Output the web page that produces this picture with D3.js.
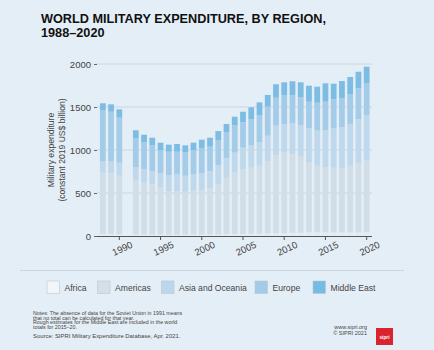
<!DOCTYPE html>
<html>
<head>
<meta charset="utf-8">
<script src="https://cdn.jsdelivr.net/npm/d3@7"></script>
<style>
  html, body { margin: 0; padding: 0; background: #e4eef6; }
  svg { display: block; font-family: "Liberation Sans", Arial, sans-serif; }
</style>
</head>
<body>
<svg id="chart" width="434" height="350"></svg>
<script>
// Data (constant 2019 US$ billion); 1991 has no total
const years = [1988, 1989, 1990, 1991, 1992, 1993, 1994, 1995, 1996, 1997, 1998, 1999, 2000,
  2001, 2002, 2003, 2004, 2005, 2006, 2007, 2008, 2009, 2010, 2011, 2012, 2013, 2014,
  2015, 2016, 2017, 2018, 2019, 2020];
const africa = [22, 21, 20, null, 18, 17, 17, 16, 15, 15, 16, 17, 18, 19, 20, 21, 23, 24, 26, 27,
  30, 33, 34, 38, 39, 44, 45, 43, 41, 41, 41, 41, 43];
const americas = [713, 708, 681, null, 625, 603, 584, 546, 508, 508, 499, 510, 517, 536, 581, 657,
  717, 752, 768, 790, 842, 909, 935, 915, 883, 813, 772, 756, 753, 746, 776, 804, 841];
const asiaOceania = [137, 143, 151, null, 156, 156, 155, 167, 186, 194, 186, 190, 194, 201, 225,
  225, 229, 251, 264, 272, 294, 341, 333, 357, 369, 395, 408, 430, 458, 480, 482, 512, 523];
const europe = [593, 573, 524, null, 337, 313, 302, 271, 271, 263, 272, 283, 291, 282, 290, 303,
  322, 295, 302, 318, 338, 325, 338, 330, 321, 310, 325, 333, 337, 334, 349, 360, 368];
const middleEast = [78, 86, 97, null, 93, 89, 85, 85, 82, 90, 81, 85, 100, 105, 105, 96, 96, 123,
  136, 147, 136, 156, 147, 159, 175, 186, 186, 213, 182, 201, 201, 193, 194];
const regions = ["Africa", "Americas", "Asia and Oceania", "Europe", "Middle East"];
const yTicks = [0, 500, 1000, 1500, 2000];
const xTicks = [1990, 1995, 2000, 2005, 2010, 2015, 2020];

const seriesByRegion = {
  "Africa": africa, "Americas": americas, "Asia and Oceania": asiaOceania,
  "Europe": europe, "Middle East": middleEast
};
const barColors = {
  "Africa": "#e2ebf1", "Americas": "#d1dee8", "Asia and Oceania": "#bfd8eb",
  "Europe": "#a4cce8", "Middle East": "#7dbde3"
};
const legendColors = {
  "Africa": "#f3f6f8", "Americas": "#d4dfe7", "Asia and Oceania": "#bcd7ec",
  "Europe": "#a3cbe8", "Middle East": "#76bbe3"
};

const table = years.map((yr, i) => {
  const row = { year: yr };
  regions.forEach(r => { row[r] = seriesByRegion[r][i] || 0; });
  return row;
});

const svg = d3.select("#chart");

// Title
svg.append("text").attr("x", 41).attr("y", 23)
  .attr("font-size", "12.7px").attr("font-weight", "bold").attr("fill", "#111")
  .text("WORLD MILITARY EXPENDITURE, BY REGION,");
svg.append("text").attr("x", 41).attr("y", 37)
  .attr("font-size", "12.7px").attr("font-weight", "bold").attr("fill", "#111")
  .text("1988–2020");

// Scales
const x = d3.scaleBand().domain(years).range([98.7, 370.8]).paddingInner(0.3).paddingOuter(0.15);
const y = d3.scaleLinear().domain([0, 2000]).range([236, 64]);

// Gridlines
svg.append("g").selectAll("line").data(yTicks.slice(1)).join("line")
  .attr("x1", 97).attr("x2", 372)
  .attr("y1", d => y(d)).attr("y2", d => y(d))
  .attr("stroke", "#cbd6de").attr("stroke-width", 1);

// Stacked bars
const stack = d3.stack().keys(regions);
const layers = stack(table);
svg.append("g").selectAll("g").data(layers).join("g")
  .attr("fill", d => barColors[d.key])
  .selectAll("rect").data(d => d.filter(p => p.data[d.key] > 0)).join("rect")
  .attr("x", d => x(d.data.year))
  .attr("width", x.bandwidth())
  .attr("y", d => y(d[1]))
  .attr("height", d => y(d[0]) - y(d[1]));

// Y axis
const yAxis = svg.append("g").attr("transform", "translate(97,0)")
  .call(d3.axisLeft(y).tickValues(yTicks).tickFormat(d3.format("d")).tickSize(3).tickPadding(3));
yAxis.select(".domain").remove();
yAxis.selectAll("line").attr("stroke", "#666");
yAxis.selectAll("text").attr("font-size", "9.5px").attr("fill", "#444")
  .attr("font-family", "Liberation Sans, Arial, sans-serif");

// X axis
const xAxis = svg.append("g").attr("transform", "translate(0,236)")
  .call(d3.axisBottom(x).tickValues(xTicks).tickSize(4).tickSizeOuter(0).tickPadding(2));
xAxis.select(".domain").attr("d", "M97,0.5H372").attr("stroke", "#555");
xAxis.selectAll("line").attr("stroke", "#555");
xAxis.selectAll("text")
  .attr("font-size", "9.5px").attr("fill", "#444")
  .attr("font-family", "Liberation Sans, Arial, sans-serif")
  .attr("text-anchor", "middle")
  .attr("transform", "translate(-1,4) rotate(-25)");

// Y axis title
const yTitle = svg.append("text")
  .attr("transform", "translate(54,150) rotate(-90)")
  .attr("text-anchor", "middle").attr("font-size", "8.6px").attr("fill", "#444");
yTitle.append("tspan").attr("x", 0).attr("dy", 0).text("Military expenditure");
yTitle.append("tspan").attr("x", 0).attr("dy", 10.5).text("(constant 2019 US$ billion)");

// Separator
svg.append("line").attr("x1", 20).attr("x2", 404).attr("y1", 270.5).attr("y2", 270.5)
  .attr("stroke", "#c9d6e0").attr("stroke-width", 1);

// Legend
const legendX = [47, 97.5, 161.5, 255, 313];
const legend = svg.append("g").selectAll("g").data(regions).join("g")
  .attr("transform", (d, i) => `translate(${legendX[i]},281)`);
legend.append("rect").attr("width", 12.5).attr("height", 12.5)
  .attr("fill", d => legendColors[d]).attr("stroke", "#b9c6d0").attr("stroke-width", 0.6);
legend.append("text").attr("x", 17.5).attr("y", 9.8)
  .attr("font-size", "8.6px").attr("fill", "#444").text(d => d);

// Notes
const notes = [
  "Notes: The absence of data for the Soviet Union in 1991 means",
  "that no total can be calculated for that year.",
  "Rough estimates for the Middle East are included in the world",
  "totals for 2015–20."
];
svg.append("g").selectAll("text").data(notes).join("text")
  .attr("x", 33).attr("y", (d, i) => 315 + i * 4.5)
  .attr("font-size", "5.3px").attr("fill", "#444").text(d => d);
svg.append("text").attr("x", 33).attr("y", 337.5)
  .attr("font-size", "5.9px").attr("fill", "#444")
  .text("Source: SIPRI Military Expenditure Database, Apr. 2021.");

// Footer right
svg.append("text").attr("x", 367).attr("y", 328.5).attr("text-anchor", "end")
  .attr("font-size", "5.5px").attr("fill", "#444").text("www.sipri.org");
svg.append("text").attr("x", 367).attr("y", 334.5).attr("text-anchor", "end")
  .attr("font-size", "5.5px").attr("fill", "#444").text("© SIPRI 2021");
svg.append("rect").attr("x", 376).attr("y", 328).attr("width", 17).attr("height", 17)
  .attr("fill", "#d9232e");
svg.append("text").attr("x", 384.5).attr("y", 338.5).attr("text-anchor", "middle")
  .attr("font-size", "4.8px").attr("font-weight", "bold").attr("fill", "#fff").text("sipri");
</script>
</body>
</html>
